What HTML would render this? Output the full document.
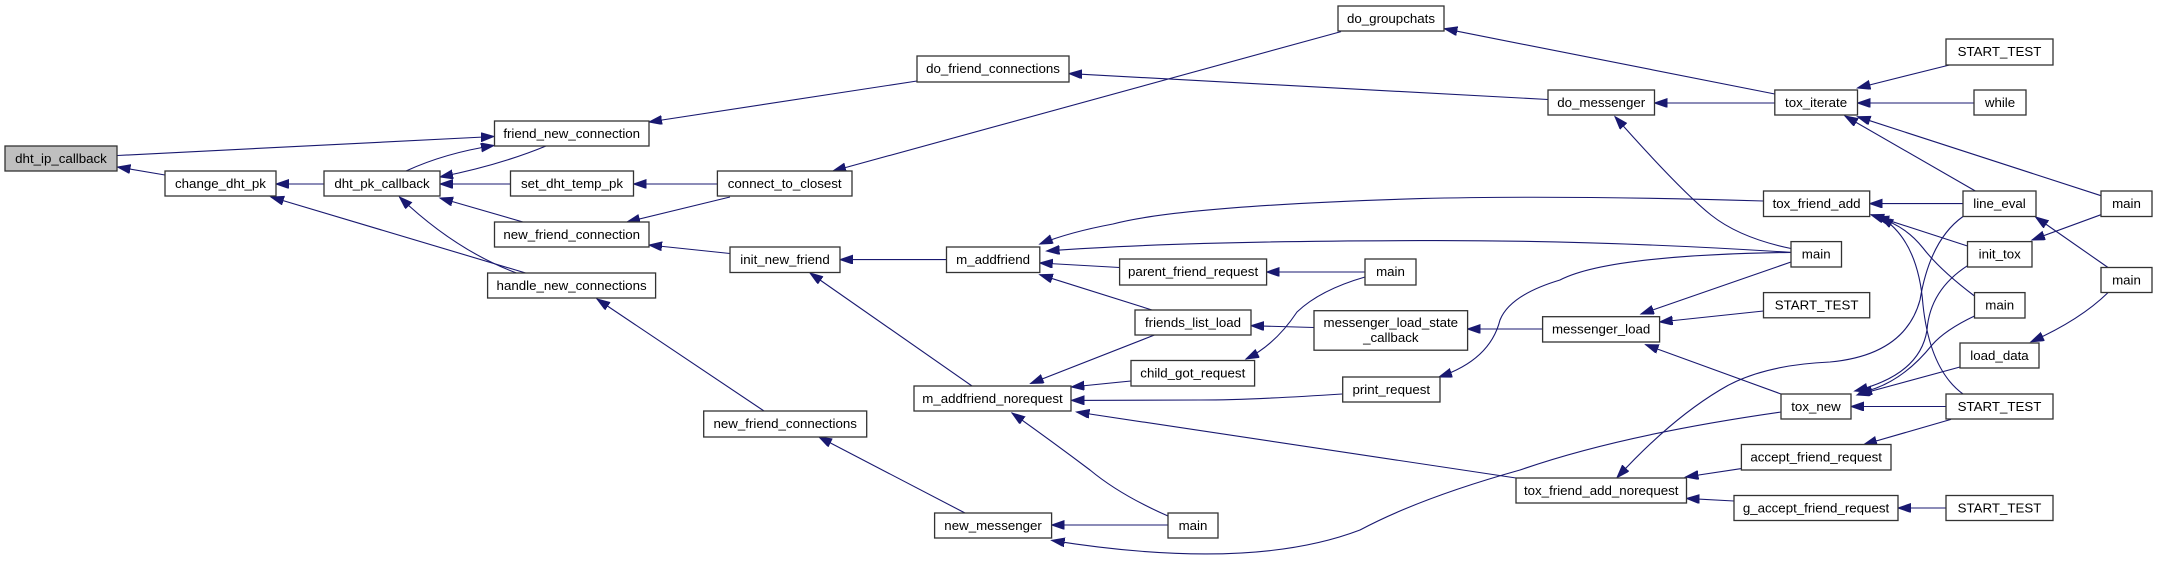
<!DOCTYPE html>
<html><head><meta charset="utf-8"><style>
html,body{margin:0;padding:0;background:#fff;}
svg{display:block;}
text{font-family:"Liberation Sans",Arial,sans-serif;font-size:13.3px;fill:#000;}
.n{fill:#fff;stroke:#333;stroke-width:1.3;}
.e{fill:none;stroke:#191970;stroke-width:1.1;}
</style></head><body>
<svg width="2157" height="563" viewBox="0 0 2157 563" xmlns="http://www.w3.org/2000/svg">
<defs><marker id="a" markerUnits="userSpaceOnUse" markerWidth="15" markerHeight="11" refX="13" refY="4.5" orient="auto"><path d="M0,0 L13,4.5 L0,9 z" fill="#191970" stroke="#191970"/></marker></defs>
<g id="edges" marker-end="url(#a)">
<path class="e" d="M117.5,155.5 L494,136.5"/>
<path class="e" d="M165,175 L117.5,167"/>
<path class="e" d="M324,184 L276,184"/>
<path class="e" d="M406,171 Q445,153 494,145.5"/>
<path class="e" d="M546,146 Q500,165 440,177"/>
<path class="e" d="M510.5,184 L440,184"/>
<path class="e" d="M523,222 L440,198"/>
<path class="e" d="M525.7,273 L271,197"/>
<path class="e" d="M516.5,273 Q455,250 399.5,197"/>
<path class="e" d="M917,81 L649,122"/>
<path class="e" d="M717,184 L633.6,184"/>
<path class="e" d="M730,197 L627,222"/>
<path class="e" d="M730,253.5 L649,245"/>
<path class="e" d="M764,411 L597,299"/>
<path class="e" d="M1341,31.6 L833,171"/>
<path class="e" d="M1548,99.5 L1069,73.6"/>
<path class="e" d="M946.5,259.6 L840,259.6"/>
<path class="e" d="M972,386 L810,273"/>
<path class="e" d="M1119.6,267.5 L1039.8,263"/>
<path class="e" d="M1152,310 L1039.8,274.7"/>
<path class="e" d="M1763.5,201 Q1560,195 1420,198.6 Q1180,206 1113,224 Q1070,232 1039.8,244"/>
<path class="e" d="M1791,252.4 Q1600,240 1420,240.6 Q1180,241 1046.6,251"/>
<path class="e" d="M1365,272 L1266.6,272"/>
<path class="e" d="M1154.5,335 L1030.6,383.5"/>
<path class="e" d="M1314,327.5 L1251,325.7"/>
<path class="e" d="M1365,277 Q1320,290 1297,312 Q1275,345 1246,359"/>
<path class="e" d="M1131,381 L1071.4,387"/>
<path class="e" d="M1342,394 Q1250,400 1200,400 L1071.4,400.4"/>
<path class="e" d="M1516,478 L1076.5,412"/>
<path class="e" d="M1168,516 Q1120,495 1090,470 Q1050,440 1012,413"/>
<path class="e" d="M965,513 L819,437"/>
<path class="e" d="M1168,525 L1051.7,525"/>
<path class="e" d="M1781,412 Q1620,435 1520,470 Q1420,498 1360,530 Q1250,572 1051.7,540.4"/>
<path class="e" d="M1774.8,94 L1444.4,28.7"/>
<path class="e" d="M1774.8,103 L1654.5,103"/>
<path class="e" d="M1951,64.6 L1857.5,88"/>
<path class="e" d="M1974,103 L1857.5,103"/>
<path class="e" d="M1976,191.4 L1845,116"/>
<path class="e" d="M2101,195.7 L1857.5,116.7"/>
<path class="e" d="M1791,248.5 Q1740,238 1711,215 Q1680,190 1615,116.7"/>
<path class="e" d="M1963,203.6 L1869.7,203.6"/>
<path class="e" d="M1967.5,246 L1871,214.7"/>
<path class="e" d="M1974.5,296 Q1940,270 1923,248 Q1905,225 1876,217"/>
<path class="e" d="M1963,394 Q1930,370 1923,305 Q1918,240 1880.5,217"/>
<path class="e" d="M2101,214.7 L2032,240"/>
<path class="e" d="M2108,267.5 L2035.6,217"/>
<path class="e" d="M2108,292.6 Q2080,320 2031,341.8"/>
<path class="e" d="M1763.5,311 L1659.7,322"/>
<path class="e" d="M1791,262 L1641,314"/>
<path class="e" d="M1542.6,329 L1467.5,329"/>
<path class="e" d="M1791,252.4 Q1608,255 1560,280 Q1510,295 1500,320 Q1490,360 1439,377"/>
<path class="e" d="M1781,394 L1645.6,344.7"/>
<path class="e" d="M1967.5,265.7 Q1930,290 1927,330 Q1920,375 1854.7,391"/>
<path class="e" d="M1974.5,316 Q1945,330 1932,345 Q1900,385 1859,393"/>
<path class="e" d="M1960,367 L1857,395"/>
<path class="e" d="M1946,406.5 L1851,406.5"/>
<path class="e" d="M1951,419.4 L1864,444.5"/>
<path class="e" d="M1741.4,468.6 L1685.5,477"/>
<path class="e" d="M1734,501 L1686.5,498.4"/>
<path class="e" d="M1946,508 L1898,508"/>
<path class="e" d="M1963,216.5 Q1930,240 1920,300 Q1905,355 1830,362 Q1760,365 1720,390 Q1670,420 1617,477.6"/>
</g>
<g id="nodes">
<rect x="5" y="146" width="112" height="25" fill="#bfbfbf" stroke="#333" stroke-width="1.3"/><text x="61" y="163" text-anchor="middle">dht_ip_callback</text>
<rect class="n" x="165" y="171" width="111" height="25"/><text x="220.5" y="188" text-anchor="middle">change_dht_pk</text>
<rect class="n" x="324" y="171" width="116" height="25"/><text x="382" y="188" text-anchor="middle">dht_pk_callback</text>
<rect class="n" x="494.5" y="121" width="154.5" height="25"/><text x="571.7" y="138" text-anchor="middle">friend_new_connection</text>
<rect class="n" x="510.5" y="171" width="123" height="25"/><text x="572" y="188" text-anchor="middle">set_dht_temp_pk</text>
<rect class="n" x="494.5" y="222" width="154.5" height="25"/><text x="571.7" y="239" text-anchor="middle">new_friend_connection</text>
<rect class="n" x="487.6" y="273" width="168" height="25"/><text x="571.6" y="290" text-anchor="middle">handle_new_connections</text>
<rect class="n" x="917" y="56" width="152" height="26"/><text x="993" y="73" text-anchor="middle">do_friend_connections</text>
<rect class="n" x="1338" y="6" width="106" height="25"/><text x="1391" y="23" text-anchor="middle">do_groupchats</text>
<rect class="n" x="717.4" y="171" width="134.6" height="25"/><text x="784.7" y="188" text-anchor="middle">connect_to_closest</text>
<rect class="n" x="730" y="247" width="110" height="25.5"/><text x="785" y="264" text-anchor="middle">init_new_friend</text>
<rect class="n" x="946.5" y="247" width="93.3" height="25.5"/><text x="993.1" y="264" text-anchor="middle">m_addfriend</text>
<rect class="n" x="1119.6" y="259" width="147" height="26"/><text x="1193.1" y="276" text-anchor="middle">parent_friend_request</text>
<rect class="n" x="1365" y="259" width="51" height="26"/><text x="1390.5" y="276" text-anchor="middle">main</text>
<rect class="n" x="1135" y="310" width="116" height="25"/><text x="1193" y="327" text-anchor="middle">friends_list_load</text>
<rect class="n" x="1314" y="310.7" width="153.6" height="39.5"/><text x="1390.8" y="327" text-anchor="middle">messenger_load_state</text><text x="1390.8" y="342" text-anchor="middle">_callback</text>
<rect class="n" x="1131" y="360.5" width="123.6" height="25.5"/><text x="1192.8" y="377.5" text-anchor="middle">child_got_request</text>
<rect class="n" x="914" y="386" width="157" height="25"/><text x="992.5" y="403" text-anchor="middle">m_addfriend_norequest</text>
<rect class="n" x="1342.7" y="377" width="97.3" height="25"/><text x="1391.3" y="394" text-anchor="middle">print_request</text>
<rect class="n" x="703.7" y="411" width="163" height="26"/><text x="785.2" y="428" text-anchor="middle">new_friend_connections</text>
<rect class="n" x="934.6" y="513" width="117" height="25"/><text x="993.1" y="530" text-anchor="middle">new_messenger</text>
<rect class="n" x="1168" y="513" width="50" height="25"/><text x="1193" y="530" text-anchor="middle">main</text>
<rect class="n" x="1548" y="90" width="106.5" height="25"/><text x="1601.2" y="107" text-anchor="middle">do_messenger</text>
<rect class="n" x="1774.8" y="90" width="82.7" height="25"/><text x="1816.1" y="107" text-anchor="middle">tox_iterate</text>
<rect class="n" x="1946" y="39" width="107" height="26"/><text x="1999.5" y="56" text-anchor="middle">START_TEST</text>
<rect class="n" x="1974" y="90" width="52" height="25"/><text x="2000" y="107" text-anchor="middle">while</text>
<rect class="n" x="1763.5" y="191" width="106.2" height="25.5"/><text x="1816.6" y="208" text-anchor="middle">tox_friend_add</text>
<rect class="n" x="1963" y="191" width="73" height="25.5"/><text x="1999.5" y="208" text-anchor="middle">line_eval</text>
<rect class="n" x="2101" y="191" width="51" height="25.5"/><text x="2126.5" y="208" text-anchor="middle">main</text>
<rect class="n" x="1791" y="241.6" width="50.5" height="25.4"/><text x="1816.2" y="258.5" text-anchor="middle">main</text>
<rect class="n" x="1967.5" y="241.6" width="64.5" height="25.4"/><text x="1999.7" y="258.5" text-anchor="middle">init_tox</text>
<rect class="n" x="2101" y="267.5" width="51" height="25"/><text x="2126.5" y="284.5" text-anchor="middle">main</text>
<rect class="n" x="1763.5" y="292.6" width="106.2" height="25.2"/><text x="1816.6" y="309.5" text-anchor="middle">START_TEST</text>
<rect class="n" x="1974.5" y="292.6" width="50.5" height="25.4"/><text x="1999.7" y="309.5" text-anchor="middle">main</text>
<rect class="n" x="1542.6" y="316.7" width="117" height="25.3"/><text x="1601.1" y="333.5" text-anchor="middle">messenger_load</text>
<rect class="n" x="1960" y="343" width="79" height="25"/><text x="1999.5" y="360" text-anchor="middle">load_data</text>
<rect class="n" x="1781" y="394" width="70" height="25"/><text x="1816" y="411" text-anchor="middle">tox_new</text>
<rect class="n" x="1946" y="394" width="107" height="25"/><text x="1999.5" y="411" text-anchor="middle">START_TEST</text>
<rect class="n" x="1741.4" y="444.5" width="149.6" height="25.5"/><text x="1816.2" y="461.5" text-anchor="middle">accept_friend_request</text>
<rect class="n" x="1516" y="478" width="170.5" height="25"/><text x="1601.2" y="495" text-anchor="middle">tox_friend_add_norequest</text>
<rect class="n" x="1734" y="495.5" width="164" height="25"/><text x="1816" y="512.5" text-anchor="middle">g_accept_friend_request</text>
<rect class="n" x="1946" y="495.5" width="107" height="25"/><text x="1999.5" y="512.5" text-anchor="middle">START_TEST</text>
</g>
</svg>
</body></html>
